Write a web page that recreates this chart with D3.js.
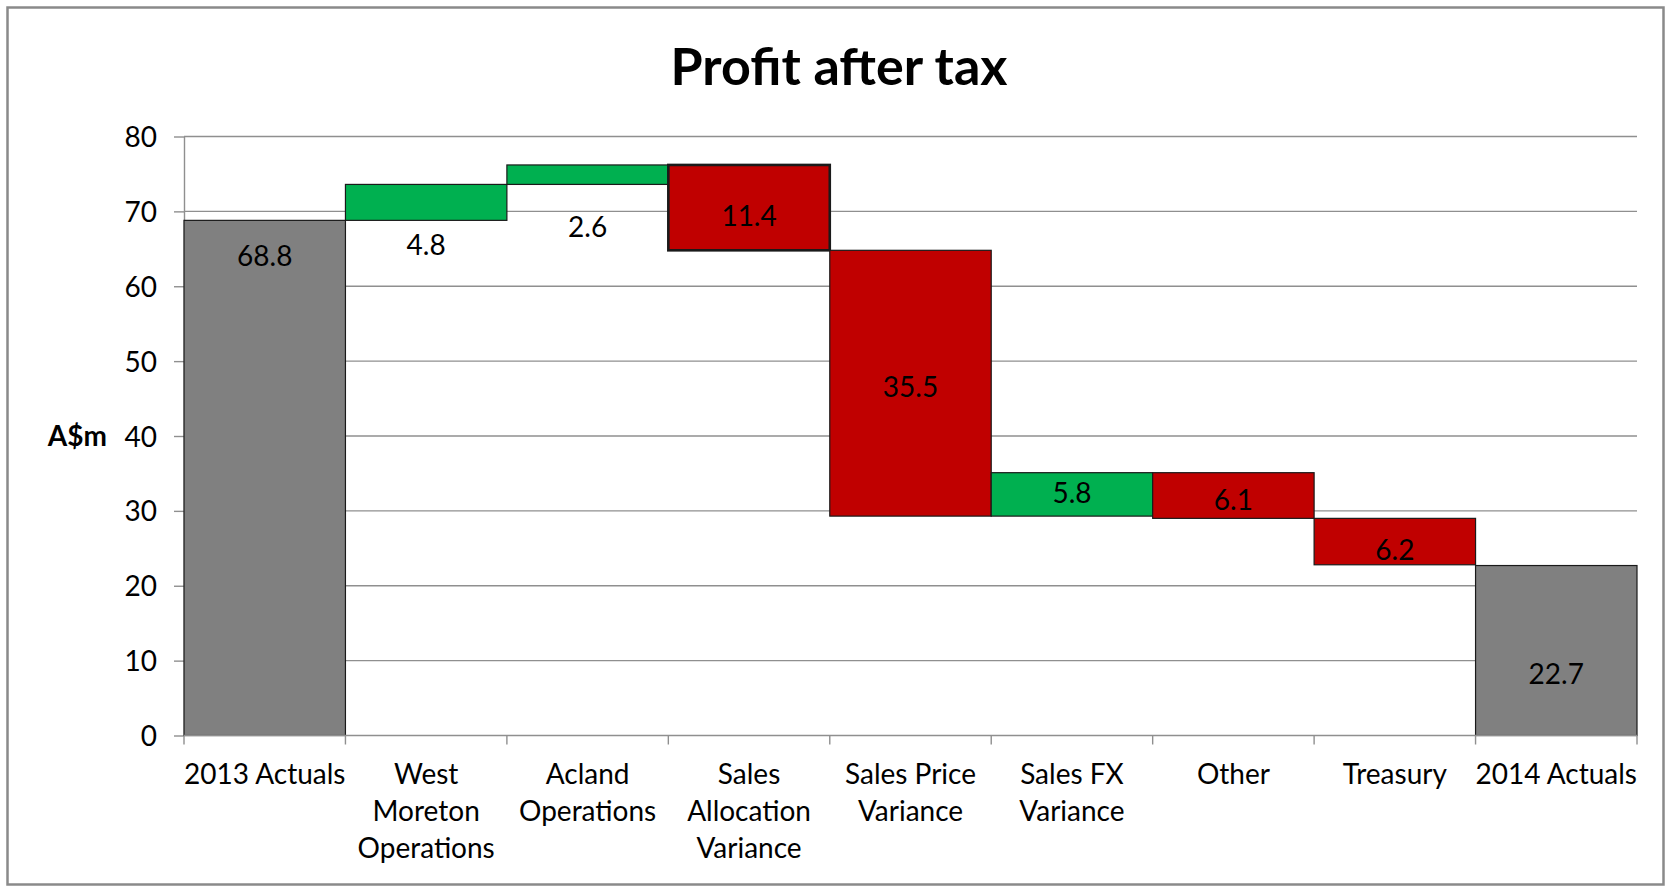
<!DOCTYPE html>
<html>
<head>
<meta charset="utf-8">
<script src="https://cdn.jsdelivr.net/npm/d3@7"></script>
<style>
  html, body { margin: 0; padding: 0; background: #fff; }
  svg { display: block; }
  text { font-family: Lato, "Open Sans", sans-serif; fill: #000; }
</style>
</head>
<body>
<svg id="chart" width="1671" height="886"></svg>
<script>
// ---- data ----
const title = "Profit after tax";
const yAxisTitle = "A$m";
const categories = ["2013 Actuals", "West Moreton Operations", "Acland Operations",
  "Sales Allocation Variance", "Sales Price Variance", "Sales FX Variance",
  "Other", "Treasury", "2014 Actuals"];
const kinds = ["total", "delta", "delta", "delta", "delta", "delta", "delta", "delta", "total"];
const changes = [68.8, 4.8, 2.6, -11.4, -35.5, 5.8, -6.1, -6.2, 22.7];
const labelAt = [64.0, 65.5, 67.95, 69.4, 46.6, 32.35, 31.45, 24.8, 8.2];
const yTicks = [0, 10, 20, 30, 40, 50, 60, 70, 80];

// ---- layout ----
const W = 1671, H = 886;
const plot = { left: 184, right: 1637, top: 136.5, bottom: 735.5 };
const gridColor = "#8f8f8f";
const colors = { total: "#808080", up: "#00B050", down: "#C00000" };
const labelFont = 28;

const svg = d3.select("#chart");

// outer chart border
svg.append("rect")
  .attr("x", 7.5).attr("y", 7.5)
  .attr("width", W - 15).attr("height", H - 9)
  .attr("fill", "#fff").attr("stroke", "#8a8a8a").attr("stroke-width", 2.5);

const x = d3.scaleBand().domain(categories).range([plot.left, plot.right]).padding(0);
const y = d3.scaleLinear().domain([0, 80]).range([plot.bottom, plot.top]);

// gridlines
svg.append("g").selectAll("line").data(yTicks.filter(t => t > 0)).join("line")
  .attr("x1", plot.left).attr("x2", plot.right)
  .attr("y1", d => y(d)).attr("y2", d => y(d))
  .attr("stroke", gridColor).attr("stroke-width", 1.4);

// y axis
const yAxis = svg.append("g").attr("transform", `translate(${plot.left},0)`)
  .call(d3.axisLeft(y).tickValues(yTicks).tickSize(10).tickSizeOuter(0).tickPadding(17));
yAxis.select(".domain").attr("stroke", gridColor).attr("stroke-width", 1.4);
yAxis.selectAll(".tick line").attr("stroke", gridColor).attr("stroke-width", 1.4);
yAxis.selectAll(".tick text")
  .attr("font-size", labelFont).attr("fill", "#000")
  .style("font-family", "Lato, sans-serif")
  .attr("dy", "0.36em");

// y axis title
svg.append("text")
  .attr("x", 107).attr("y", y(40))
  .attr("dy", "0.36em")
  .attr("text-anchor", "end")
  .attr("font-size", labelFont).attr("font-weight", "bold")
  .text(yAxisTitle);

// bars
let run = 0;
const bars = categories.map((c, i) => {
  let y0, y1;
  if (kinds[i] === "total") { y0 = 0; y1 = changes[i]; run = changes[i]; }
  else { y0 = run; y1 = run + changes[i]; run = y1; }
  const kind = kinds[i] === "total" ? "total" : (changes[i] >= 0 ? "up" : "down");
  return { c, y0, y1, kind, v: Math.abs(changes[i]), lab: labelAt[i] };
});

svg.append("g").selectAll("rect").data(bars).join("rect")
  .attr("x", d => x(d.c))
  .attr("width", x.bandwidth())
  .attr("y", d => y(Math.max(d.y0, d.y1)))
  .attr("height", d => Math.abs(y(d.y0) - y(d.y1)))
  .attr("fill", d => colors[d.kind])
  .attr("stroke", "#1a1a1a")
  .attr("stroke-width", d => d.c === "Sales Allocation Variance" ? 2.6 : 1.2);

// x axis
svg.append("line")
  .attr("x1", plot.left).attr("x2", plot.right)
  .attr("y1", plot.bottom).attr("y2", plot.bottom)
  .attr("stroke", gridColor).attr("stroke-width", 1.4);
const bounds = categories.map(c => x(c)).concat([x(categories[categories.length - 1]) + x.bandwidth()]);
svg.append("g").selectAll("line").data(bounds).join("line")
  .attr("x1", d => d).attr("x2", d => d)
  .attr("y1", plot.bottom).attr("y2", plot.bottom + 9)
  .attr("stroke", gridColor).attr("stroke-width", 1.4);

// data labels
svg.append("g").selectAll("text").data(bars).join("text")
  .attr("x", d => x(d.c) + x.bandwidth() / 2)
  .attr("y", d => y(d.lab))
  .attr("dy", "0.36em")
  .attr("text-anchor", "middle")
  .attr("font-size", labelFont)
  .text(d => d.v.toFixed(1));

// category labels with wrapping
const catG = svg.append("g");
categories.forEach(c => {
  const t = catG.append("text")
    .attr("x", x(c) + x.bandwidth() / 2)
    .attr("y", 784)
    .attr("text-anchor", "middle")
    .attr("font-size", labelFont);
  const words = c.split(" ");
  let lines = [], cur = [];
  const probe = t.append("tspan");
  words.forEach(w => {
    const test = cur.concat([w]).join(" ");
    probe.text(test);
    if (cur.length && probe.node().getComputedTextLength() > x.bandwidth() + 6) {
      lines.push(cur.join(" "));
      cur = [w];
    } else cur.push(w);
  });
  lines.push(cur.join(" "));
  probe.remove();
  lines.forEach((ln, k) => {
    t.append("tspan").attr("x", x(c) + x.bandwidth() / 2)
      .attr("dy", k === 0 ? 0 : 37).text(ln);
  });
});

// title
svg.append("text")
  .attr("x", 839).attr("y", 85)
  .attr("text-anchor", "middle")
  .attr("font-size", 52).attr("font-weight", "bold")
  .text(title);
</script>
</body>
</html>
